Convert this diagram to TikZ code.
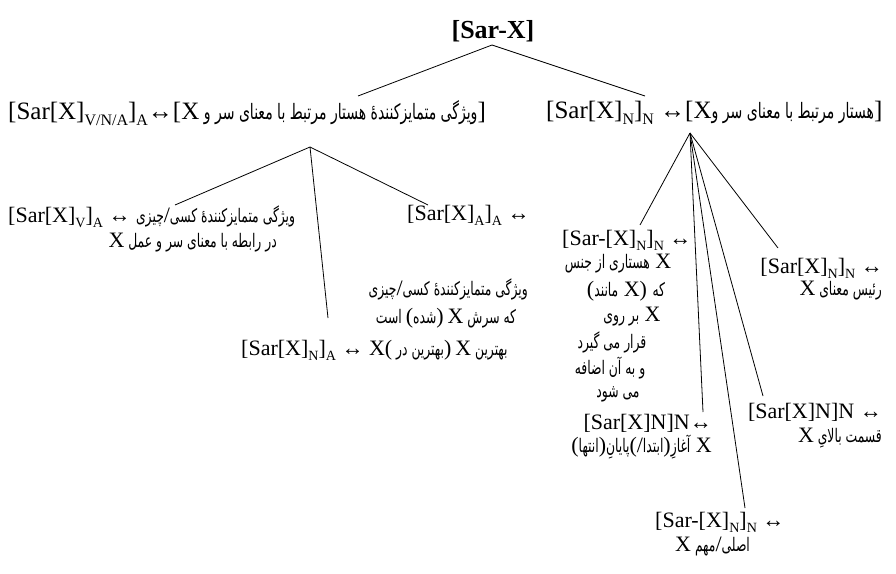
\documentclass[tikz,border=0pt]{standalone}
\usepackage{fontspec}
\setmainfont{Liberation Serif}
\newfontfamily\fafont[Script=Arabic,Scale=0.85,FakeStretch=0.66]{DejaVu Sans}
\TeXXeTstate=1
\usetikzlibrary{positioning}
\newcommand{\sbs}[1]{\raisebox{-.22em}{\scalebox{0.64}{#1}}}
\newcommand{\lx}{{\rmfamily X}}
\newcommand{\lp}{{\rmfamily(}}
\newcommand{\rp}{{\rmfamily)}}
\newcommand{\fsl}{{\rmfamily/}}
\newcommand{\fat}[1]{{\fafont\beginR #1\endR}}
\tikzset{
	lab/.style={inner sep=0pt, font=\fontsize{22}{26}\selectfont},
	headlab/.style={inner sep=0pt, font=\fontsize{25}{29}\selectfont},
	titlebox/.style={inner sep=0pt, font=\bfseries\fontsize{26}{30}\selectfont},
	treeline/.style={line width=0.8pt}
}
\begin{document}
\begin{tikzpicture}[x=1pt,y=-1pt]
		\useasboundingbox (0,0) rectangle (896,573);
		\node [titlebox] (root) at (493,31) {[Sar-X]};
		\node [headlab, anchor=west] (lhead) at (8,113) {[Sar[X]\sbs{V/N/A}]\sbs{A}↔[\fat{ویژگی متمایزکنندهٔ هستار مرتبط با معنای سر و \lx}]};
		\node [headlab, anchor=west] (rhead) at (546,113) {[Sar[X]\sbs{N}]\sbs{N} ↔[\fat{هستار مرتبط با معنای سر و\lx}]};
		\coordinate (topfork) at (492,45);
		\coordinate (lheadtop) at (358,96);
		\coordinate (rheadtop) at (645,96);
		\draw [treeline] (topfork) -- (lheadtop);
		\draw [treeline] (topfork) -- (rheadtop);
		\coordinate (lfork) at (310,147);
		\coordinate (lvtop) at (175,205);
		\coordinate (latop) at (428,205);
		\coordinate (lntop) at (328,318);
		\draw [treeline] (lfork) -- (lvtop);
		\draw [treeline] (lfork) -- (latop);
		\draw [treeline] (lfork) -- (lntop);
		\node [lab, anchor=west] (lv) at (8,217) {[Sar[X]\sbs{V}]\sbs{A} ↔ \fat{ویژگی متمایزکنندهٔ کسی\fsl چیزی}};
		\node [lab, anchor=east] (lvb) at (277,243) {\fat{در رابطه با معنای سر و عمل \lx}};
		\node [lab, anchor=west] (la) at (407,215) {[Sar[X]\sbs{A}]\sbs{A} ↔};
		\node [lab, anchor=east] (lna) at (528,289) {\fat{ویژگی متمایزکنندهٔ کسی\fsl چیزی}};
		\node [lab] (lnb) at (446,318) {\fat{که سرش \lx\ \rp شده\lp\ است}};
		\node [lab, anchor=west] (ln) at (241,350) {[Sar[X]\sbs{N}]\sbs{A} ↔ \fat{بهترین \lx\ \rp بهترین در \lx\lp}};
		\coordinate (rfork) at (690,133);
		\coordinate (rgtop) at (640,225);
		\coordinate (rbtop) at (703,412);
		\coordinate (rmtop) at (745,508);
		\coordinate (rutop) at (763,396);
		\coordinate (rctop) at (778,248);
		\draw [treeline] (rfork) -- (rgtop);
		\draw [treeline] (rfork) -- (rbtop);
		\draw [treeline] (rfork) -- (rmtop);
		\draw [treeline] (rfork) -- (rutop);
		\draw [treeline] (rfork) -- (rctop);
		\node [lab, anchor=west] (rg) at (562,240) {[Sar-[X]\sbs{N}]\sbs{N} ↔};
		\node [lab] (rg1) at (618,264) {\fat{هستاری از جنس} X};
		\node [lab] (rg2) at (626,291) {(\fat{مانند} X) \fat{که}};
		\node [lab] (rg3) at (632,317) {\fat{بر روی} X};
		\node [lab] (rg4) at (612,342) {\fat{قرار می گیرد}};
		\node [lab] (rg5) at (610,368) {\fat{و به آن اضافه}};
		\node [lab] (rg6) at (618,394) {\fat{می شود}};
		\node [lab, anchor=east] (rb) at (712,423) {[Sar[X]N]N↔};
		\node [lab, anchor=east] (rb1) at (712,447) {\fat{آغازِ\rp ابتدا\lp\fsl پایانِ\rp انتها\lp} X};
		\node [lab, anchor=west] (rm) at (655,522) {[Sar-[X]\sbs{N}]\sbs{N} ↔};
		\node [lab, anchor=west] (rm1) at (675,547) {\fat{اصلی\fsl مهم \lx}};
		\node [lab, anchor=east] (ru) at (882,412) {[Sar[X]N]N ↔};
		\node [lab, anchor=east] (ru1) at (882,438) {\fat{قسمت بالایِ \lx}};
		\node [lab, anchor=east] (rc) at (883,268) {[Sar[X]\sbs{N}]\sbs{N} ↔};
		\node [lab, anchor=east] (rc1) at (882,291) {\fat{رئیس معنای \lx}};
\end{tikzpicture}
\end{document}
